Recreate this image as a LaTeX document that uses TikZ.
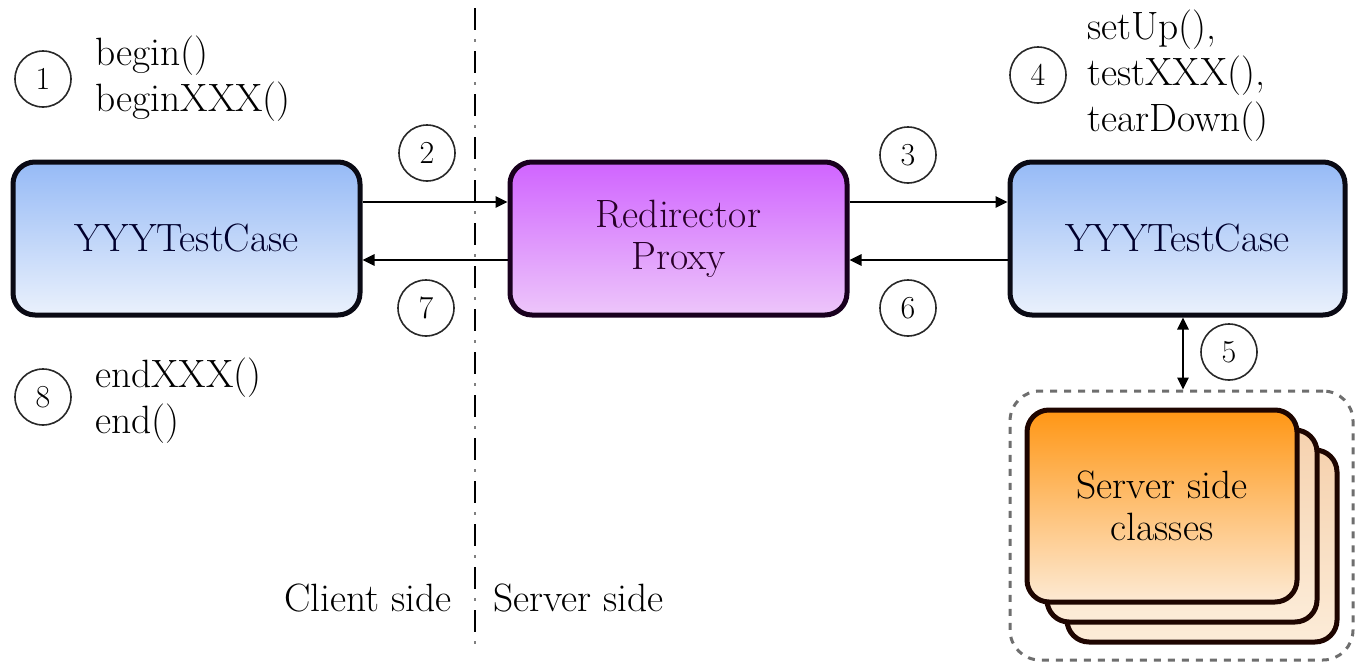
\documentclass[tikz,border=0pt]{standalone}
\usepackage{fontspec}
\usetikzlibrary{arrows.meta}
\definecolor{blueTop}{RGB}{150,186,246}
\definecolor{blueBot}{RGB}{234,241,252}
\definecolor{purpTop}{RGB}{208,100,255}
\definecolor{purpBot}{RGB}{237,198,250}
\definecolor{orTop}{RGB}{255,150,20}
\definecolor{orBot}{RGB}{253,234,212}
\definecolor{peachTop}{RGB}{246,210,175}
\definecolor{peachBot}{RGB}{252,236,216}
\definecolor{boxline}{RGB}{10,10,20}
\definecolor{stackline}{RGB}{30,5,0}
\tikzset{
  bigtext/.style={font=\fontsize{39.5}{46}\selectfont},
  mainbox/.style={draw=boxline, line width=5pt, rounded corners=22pt,
    minimum height=153pt, inner sep=0pt, bigtext, align=center},
  bluebox/.style={mainbox, top color=blueTop, bottom color=blueBot, text={rgb,255:red,0;green,0;blue,45}},
  purpbox/.style={mainbox, draw={rgb,255:red,25;green,0;blue,30}, top color=purpTop, bottom color=purpBot, text={rgb,255:red,40;green,0;blue,40}},
  stackbox/.style={draw=stackline, line width=5pt, rounded corners=22pt,
    minimum width=270pt, minimum height=192pt, inner sep=0pt, bigtext, align=center},
  numc/.style={circle, draw={rgb,255:red,40;green,40;blue,40}, line width=1.6pt, minimum size=56pt,
    inner sep=0pt, font=\fontsize{32}{32}\selectfont},
  lbl/.style={bigtext, align=left, anchor=west, inner sep=0pt},
  arr/.style={line width=2.6pt, -{Triangle[length=12pt,width=11pt]}},
  dblarr/.style={line width=2.6pt, {Triangle[length=12pt,width=11pt]}-{Triangle[length=12pt,width=11pt]}},
}
\begin{document}
\begin{tikzpicture}[x=1pt,y=-1pt]
\useasboundingbox (0,0) rectangle (1355,664);
% divider
\coordinate (dtop) at (475,8);
\coordinate (dbot) at (475,645);
\draw[line width=2.6pt, black, dash pattern=on 22pt off 21pt] (dtop) -- (dbot);
\draw[line width=2.6pt, gray, dash pattern=on 0pt off 31pt on 3pt off 9pt] (dtop) -- (dbot);
\node[bigtext, anchor=east, inner sep=0pt] (cs) at (452,598) {Client side};
\node[bigtext, anchor=west, inner sep=0pt] (ss) at (493,598) {Server side};
% main boxes
\node[bluebox, minimum width=347pt] (L) at (186.5,238.5) {YYYTestCase};
\node[purpbox, minimum width=337pt] (M) at (678.5,238.5) {Redirector\\[-4pt]Proxy};
\node[bluebox, minimum width=335pt] (R) at (1177.5,238.5) {YYYTestCase};
% group
\node[draw={rgb,255:red,110;green,110;blue,110}, line width=3pt, dash pattern=on 7pt off 7pt,
  rounded corners=30pt, minimum width=343pt, minimum height=269pt, inner sep=0pt] (grp) at (1181.5,525.5) {};
\node[stackbox, top color=peachTop, bottom color=peachBot] (s3) at (1202,546) {};
\node[stackbox, top color=peachTop, bottom color=peachBot] (s2) at (1182,526) {};
\node[stackbox, top color=orTop, bottom color=orBot] (s1) at (1162,506) {Server side\\[-4pt]classes};
% arrows
\draw[arr] ([yshift=36.5pt]L.east) -- ([yshift=36.5pt]M.west);
\draw[arr] ([yshift=-21.5pt]M.west) -- ([yshift=-21.5pt]L.east);
\draw[arr] ([yshift=36.5pt]M.east) -- ([yshift=36.5pt]R.west);
\draw[arr] ([yshift=-21.5pt]R.west) -- ([yshift=-21.5pt]M.east);
\coordinate (a5) at (1183,0);
\draw[dblarr] (R.south -| a5) -- (grp.north -| a5);
% numbered circles
\node[numc] (c1) at (43,79) {1};
\node[numc] (c2) at (427,153) {2};
\node[numc] (c3) at (908,155) {3};
\node[numc] (c4) at (1038,75) {4};
\node[numc] (c5) at (1229,352) {5};
\node[numc] (c6) at (908,308) {6};
\node[numc] (c7) at (426,308) {7};
\node[numc] (c8) at (43,397) {8};
% labels
\node[lbl] (t1) at (95,79) {begin()\\beginXXX()};
\node[lbl] (t4) at (1087,76) {setUp(),\\testXXX(),\\tearDown()};
\node[lbl] (t8) at (95,401) {endXXX()\\end()};
\end{tikzpicture}
\end{document}
